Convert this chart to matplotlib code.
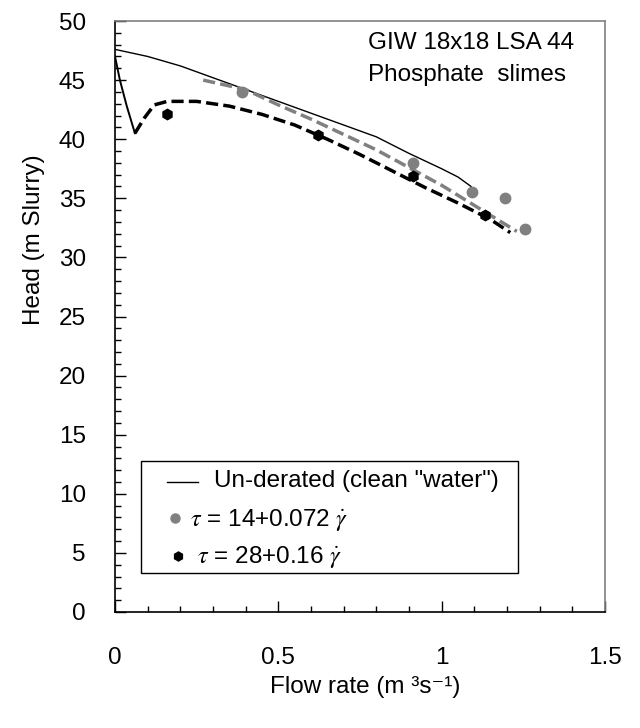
import matplotlib
matplotlib.use("Agg")
import matplotlib.pyplot as plt
from matplotlib.patches import Rectangle
from matplotlib.lines import Line2D
from matplotlib.ticker import MultipleLocator

plt.rcParams['font.family'] = ['Liberation Sans', 'DejaVu Sans']
plt.rcParams['mathtext.fontset'] = 'stix'

# Un-derated (clean water) curve
water_x = [0.0, 0.1, 0.2, 0.3, 0.4, 0.5, 0.6, 0.7, 0.8, 0.9, 1.0, 1.05, 1.09]
water_y = [47.6, 47.0, 46.2, 45.2, 44.2, 43.2, 42.2, 41.2, 40.2, 38.8, 37.5, 36.8, 36.0]

# tau = 14 + 0.072 gamma-dot (grey)
grey_curve_x = [0.27, 0.4, 0.5, 0.6, 0.7, 0.8, 0.9, 1.0, 1.1, 1.23]
grey_curve_y = [45.0, 44.2, 42.9, 41.7, 40.4, 39.1, 37.6, 36.1, 34.4, 32.2]
grey_pts_x = [0.39, 0.913, 1.092, 1.194, 1.255]
grey_pts_y = [44.0, 38.0, 35.5, 35.05, 32.4]

# tau = 28 + 0.16 gamma-dot (black)
black_dip_x = [0.0, 0.015, 0.036, 0.061]
black_dip_y = [47.0, 45.0, 42.8, 40.5]
black_curve_x = [0.061, 0.09, 0.12, 0.16, 0.25, 0.35, 0.45, 0.55, 0.65, 0.75, 0.85, 0.95, 1.05, 1.15, 1.21]
black_curve_y = [40.5, 41.8, 42.9, 43.2, 43.2, 42.8, 42.1, 41.2, 40.0, 38.7, 37.3, 35.9, 34.6, 33.2, 32.1]
black_pts_x = [0.158, 0.622, 0.913, 1.133]
black_pts_y = [42.1, 40.35, 36.9, 33.6]

legend_labels = ['Un-derated (clean "water")',
                 r'$\tau$ = 14+0.072 $\dot{\gamma}$',
                 r'$\tau$ = 28+0.16 $\dot{\gamma}$']

fig = plt.figure(figsize=(6.4, 7.28), dpi=100)
ax = fig.add_axes([115/640, 116/728, 490/640, 591/728])

grey = '#808080'
ax.plot(water_x, water_y, color='black', lw=1.0)
ax.plot(grey_curve_x, grey_curve_y, color=grey, lw=2.5, dashes=(3.5, 1.5))
ax.plot(black_dip_x, black_dip_y, color='black', lw=1.4)
ax.plot(black_curve_x, black_curve_y, color='black', lw=2.5, dashes=(3.5, 1.5))
ax.plot(grey_pts_x, grey_pts_y, 'o', color=grey, ms=7.5, mec=grey)
ax.plot(black_pts_x, black_pts_y, 'h', color='black', ms=7.5)

ax.set_xlim(0, 1.5)
ax.set_ylim(0, 50)
ax.xaxis.set_major_locator(MultipleLocator(0.5))
ax.xaxis.set_minor_locator(MultipleLocator(0.1))
ax.yaxis.set_major_locator(MultipleLocator(5))
ax.yaxis.set_minor_locator(MultipleLocator(1))
ax.set_xticks([0, 0.5, 1, 1.5])
ax.set_xticklabels(['0', '0.5', '1', '1.5'])
ax.tick_params(which='both', direction='in', top=False, right=False, labelsize=17.5)
ax.tick_params(which='major', length=8, width=1)
ax.tick_params(which='minor', length=4, width=1)
ax.tick_params(axis='y', which='major', pad=21)
ax.tick_params(axis='x', which='major', pad=25)

for s in ['top', 'right']:
    ax.spines[s].set_color(grey)
    ax.spines[s].set_linewidth(1.2)
for s in ['left', 'bottom']:
    ax.spines[s].set_color('black')
    ax.spines[s].set_linewidth(1.2)

ax.set_xlabel('Flow rate (m ³s⁻¹)', fontsize=17.5)
ax.xaxis.set_label_coords(0.51, -0.108)
ax.set_ylabel('Head (m Slurry)', fontsize=17.5)
ax.yaxis.set_label_coords(-0.143, 0.63)

ax.text(0.516, 0.963, 'GIW 18x18 LSA 44', transform=ax.transAxes, fontsize=17.5, va='center', ha='left')
ax.text(0.516, 0.909, 'Phosphate  slimes', transform=ax.transAxes, fontsize=17.5, va='center', ha='left')

# legend box
def ay(py):
    return (612-py)/591
def axx(px):
    return (px-115)/490
lx0, lx1 = axx(141), axx(518)
ly0, ly1 = ay(573), ay(461)
ax.add_patch(Rectangle((lx0, ly0), lx1-lx0, ly1-ly0, transform=ax.transAxes,
                       fill=True, facecolor='white', edgecolor='black', lw=1.0, zorder=5))
ax.add_line(Line2D([axx(167), axx(198)], [ay(482), ay(482)], transform=ax.transAxes,
                   color='black', lw=1.0, zorder=6))
ax.plot([axx(175)], [ay(518)], 'o', color=grey, ms=6.5, transform=ax.transAxes, zorder=6, clip_on=False)
ax.plot([axx(178)], [ay(556)], 'h', color='black', ms=6.5, transform=ax.transAxes, zorder=6, clip_on=False)
ax.text(axx(214), ay(481), legend_labels[0], transform=ax.transAxes, fontsize=17.5, va='center', ha='left', zorder=6)
ax.text(axx(190), ay(520), legend_labels[1], transform=ax.transAxes, fontsize=17.5, va='center', ha='left', zorder=6)
ax.text(axx(197), ay(557), legend_labels[2], transform=ax.transAxes, fontsize=17.5, va='center', ha='left', zorder=6)

fig.savefig('out.png', dpi=100)
